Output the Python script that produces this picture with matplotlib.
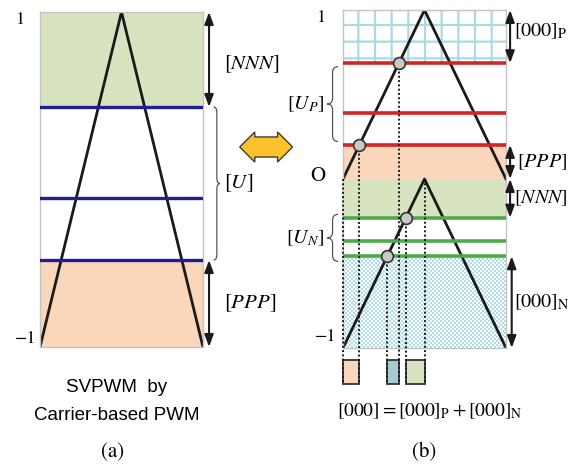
import numpy as np
import matplotlib
matplotlib.use("Agg")
import matplotlib.pyplot as plt
import matplotlib.transforms as mtransforms
from matplotlib.path import Path
from matplotlib.patches import PathPatch, Rectangle
from matplotlib.colors import ListedColormap

plt.rcParams['mathtext.fontset'] = 'stix'
plt.rcParams['font.family'] = 'STIXGeneral'
plt.rcParams['hatch.linewidth'] = 1.6

# carrier, one switching period (normalised time)
carrier_t = [0.0, 0.5, 1.0]
carrier_a = [-1.0, 1.0, -1.0]
carrier_bp = [0.0, 1.0, 0.0]
carrier_bn = [-1.0, 0.0, -1.0]

# reference levels
ref_a = [0.433, -0.110, -0.481]
ref_p = [0.685, 0.393, 0.202]
ref_n = [-0.229, -0.365, -0.457]

GREEN = '#d8e4bf'
PEACH = '#fad6bb'
GRID_BLUE = '#a9dbe6'
BOX_BLUE = '#a6c9d3'
INK = '#1a1a1a'

W, H = 579, 473
fig = plt.figure(figsize=(W / 100, H / 100), dpi=100)


def add_panel(px0, py0, px1, py1):
    ax = fig.add_axes([px0 / W, 1 - py1 / H, (px1 - px0) / W, (py1 - py0) / H])
    ax.set_xlim(0, 1)
    ax.set_ylim(-1, 1)
    ax.set_xticks([])
    ax.set_yticks([])
    for s in ax.spines.values():
        s.set_color('#c4c4c4')
        s.set_linewidth(1.0)
    return ax


def varrow(ax, x, y0, y1):
    tr = mtransforms.blended_transform_factory(ax.transAxes, ax.transData)
    ax.annotate('', xy=(x, y0), xytext=(x, y1), xycoords=tr, textcoords=tr,
                arrowprops=dict(arrowstyle='<|-|>,head_length=0.6,head_width=0.22',
                                mutation_scale=12, color=INK, lw=1.5,
                                shrinkA=0, shrinkB=0), annotation_clip=False)


def brace(ax, x0, w, y0, y1, r=0.035):
    # arms at x0, tip at x0 + w (w < 0 -> tip on the left)
    tr = mtransforms.blended_transform_factory(ax.transAxes, ax.transData)
    xm, xt, ym = x0 + w / 2, x0 + w, (y0 + y1) / 2
    verts = [(x0, y1), (xm, y1), (xm, y1 - r), (xm, ym + r), (xm, ym), (xt, ym),
             (xm, ym), (xm, ym - r), (xm, y0 + r), (xm, y0), (x0, y0)]
    codes = [Path.MOVETO, Path.CURVE3, Path.CURVE3, Path.LINETO, Path.CURVE3, Path.CURVE3,
             Path.CURVE3, Path.CURVE3, Path.LINETO, Path.CURVE3, Path.CURVE3]
    ax.add_patch(PathPatch(Path(verts, codes), fc='none', ec='#555555', lw=0.9,
                           transform=tr, clip_on=False))


def label(px, py, s, **kw):
    kw.setdefault('ha', 'center')
    kw.setdefault('va', 'center')
    fig.text(px / W, 1 - py / H, s, **kw)


# ---------------- (a) ----------------
axa = add_panel(40, 12, 203, 347)
axa.axhspan(max(ref_a), 1, color=GREEN, lw=0, zorder=0)
axa.axhspan(-1, min(ref_a), color=PEACH, lw=0, zorder=0)
axa.plot(carrier_t, carrier_a, color=INK, lw=2.0, zorder=2)
for v in ref_a:
    axa.axhline(v, color='#1e1e96', lw=2.4, zorder=3)

varrow(axa, 1.037, max(ref_a), 1)
varrow(axa, 1.037, -1, min(ref_a))
brace(axa, 1.065, 0.04, min(ref_a), max(ref_a))
trA = mtransforms.blended_transform_factory(axa.transAxes, axa.transData)
axa.text(1.13, (1 + max(ref_a)) / 2 - 0.03, r'$[NNN]$', transform=trA, fontsize=15, va='center')
axa.text(1.13, (min(ref_a) + max(ref_a)) / 2, r'$[U]$', transform=trA, fontsize=15, va='center')
axa.text(1.13, (-1 + min(ref_a)) / 2, r'$[PPP]$', transform=trA, fontsize=15, va='center')

label(21, 20, '1', fontsize=13)
label(36, 339, '\u22121', fontsize=13, ha='right')

label(117, 387, 'SVPWM  by', family='Liberation Sans', fontsize=13.5)
label(117, 415, 'Carrier-based PWM', family='Liberation Sans', fontsize=13.5)
label(113, 452, '(a)', fontsize=15)

# yellow double arrow between panels
label(267, 147, '            ', fontsize=7.5,
      bbox=dict(boxstyle='darrow,pad=0.5', fc='#fcc12c', ec='#3c3c3c', lw=1.0))

# ---------------- (b) ----------------
axb = add_panel(343, 10, 506, 348)
axb.axhspan(max(ref_p), 1, fc='white', ec=GRID_BLUE, hatch='+', lw=0, zorder=0)
axb.axhspan(0, min(ref_p), color=PEACH, lw=0, zorder=0)
axb.axhspan(max(ref_n), 0, color=GREEN, lw=0, zorder=0)
checker = np.indices((46, 82)).sum(axis=0) % 2
axb.imshow(checker, cmap=ListedColormap(['white', '#afdde8']), interpolation='nearest',
           extent=[0, 1, -1, min(ref_n)], aspect='auto', zorder=0)
axb.set_xlim(0, 1)
axb.set_ylim(-1, 1)

axb.plot(carrier_t, carrier_bp, color=INK, lw=2.0, zorder=2)
axb.plot(carrier_t, carrier_bn, color=INK, lw=2.0, zorder=2)
for v in ref_p:
    axb.axhline(v, color='#d42424', lw=2.6, zorder=3)
for v in ref_n:
    axb.axhline(v, color='#4caa4c', lw=2.6, zorder=3)

# crossing of each outer reference with the rising carrier edge
tp_hi = np.interp(max(ref_p), carrier_bp[:2], carrier_t[:2])
tp_lo = np.interp(min(ref_p), carrier_bp[:2], carrier_t[:2])
tn_hi = np.interp(max(ref_n), carrier_bn[:2], carrier_t[:2])
tn_lo = np.interp(min(ref_n), carrier_bn[:2], carrier_t[:2])

y_box0, y_box1 = -1.07, -1.215
dots = [(0.0, 0.0), (tp_lo, min(ref_p)), (tp_hi, max(ref_p)),
        (tn_lo, min(ref_n)), (tn_hi, max(ref_n)), (0.5, 0.0)]
for t, v in dots:
    axb.plot([t, t], [v, y_box1], color=INK, lw=1.4, ls=(0, (1, 1.2)),
             clip_on=False, zorder=4)
axb.plot([tp_hi, tp_lo, tn_hi, tn_lo], [max(ref_p), min(ref_p), max(ref_n), min(ref_n)],
         'o', ms=8.5, mfc='#c8c8c8', mec='#333333', mew=1.2, zorder=5, clip_on=False)

for t0, t1, c in [(0.0, tp_lo, PEACH), (tn_lo, tp_hi, BOX_BLUE), (tn_hi, 0.5, GREEN)]:
    axb.add_patch(Rectangle((t0, y_box1), t1 - t0, y_box0 - y_box1, fc=c, ec='#333333',
                            lw=1.3, clip_on=False, zorder=3))

varrow(axb, 1.025, max(ref_p), 1)
varrow(axb, 1.025, 0, min(ref_p))
varrow(axb, 1.025, max(ref_n), 0)
varrow(axb, 1.035, -1, min(ref_n))
brace(axb, -0.03, -0.068, min(ref_p) + 0.02, max(ref_p) - 0.02)
brace(axb, -0.03, -0.068, min(ref_n) - 0.03, max(ref_n) + 0.02)

trB = mtransforms.blended_transform_factory(axb.transAxes, axb.transData)
axb.text(1.05, (1 + max(ref_p)) / 2 + 0.03, r'$[000]_{\mathrm{P}}$', transform=trB, fontsize=14.5, va='center')
axb.text(1.07, min(ref_p) / 2, r'$[PPP]$', transform=trB, fontsize=14.5, va='center')
axb.text(1.05, max(ref_n) / 2, r'$[NNN]$', transform=trB, fontsize=14.5, va='center')
axb.text(1.05, (-1 + min(ref_n)) / 2, r'$[000]_{\mathrm{N}}$', transform=trB, fontsize=14.5, va='center')
axb.text(-0.115, (min(ref_p) + max(ref_p)) / 2, r'$[U_P]$', transform=trB, fontsize=14.5,
         va='center', ha='right')
axb.text(-0.115, (min(ref_n) + max(ref_n)) / 2 - 0.005, r'$[U_N]$', transform=trB, fontsize=14.5,
         va='center', ha='right')

label(322, 18, '1', fontsize=13)
label(318, 176, 'O', fontsize=15)
label(336, 337, '\u22121', fontsize=13, ha='right')

label(430, 411, r'$[000]=[000]_{\mathrm{P}}+[000]_{\mathrm{N}}$', fontsize=14)
label(424, 452, '(b)', fontsize=15)

fig.savefig('out.png', dpi=100)
